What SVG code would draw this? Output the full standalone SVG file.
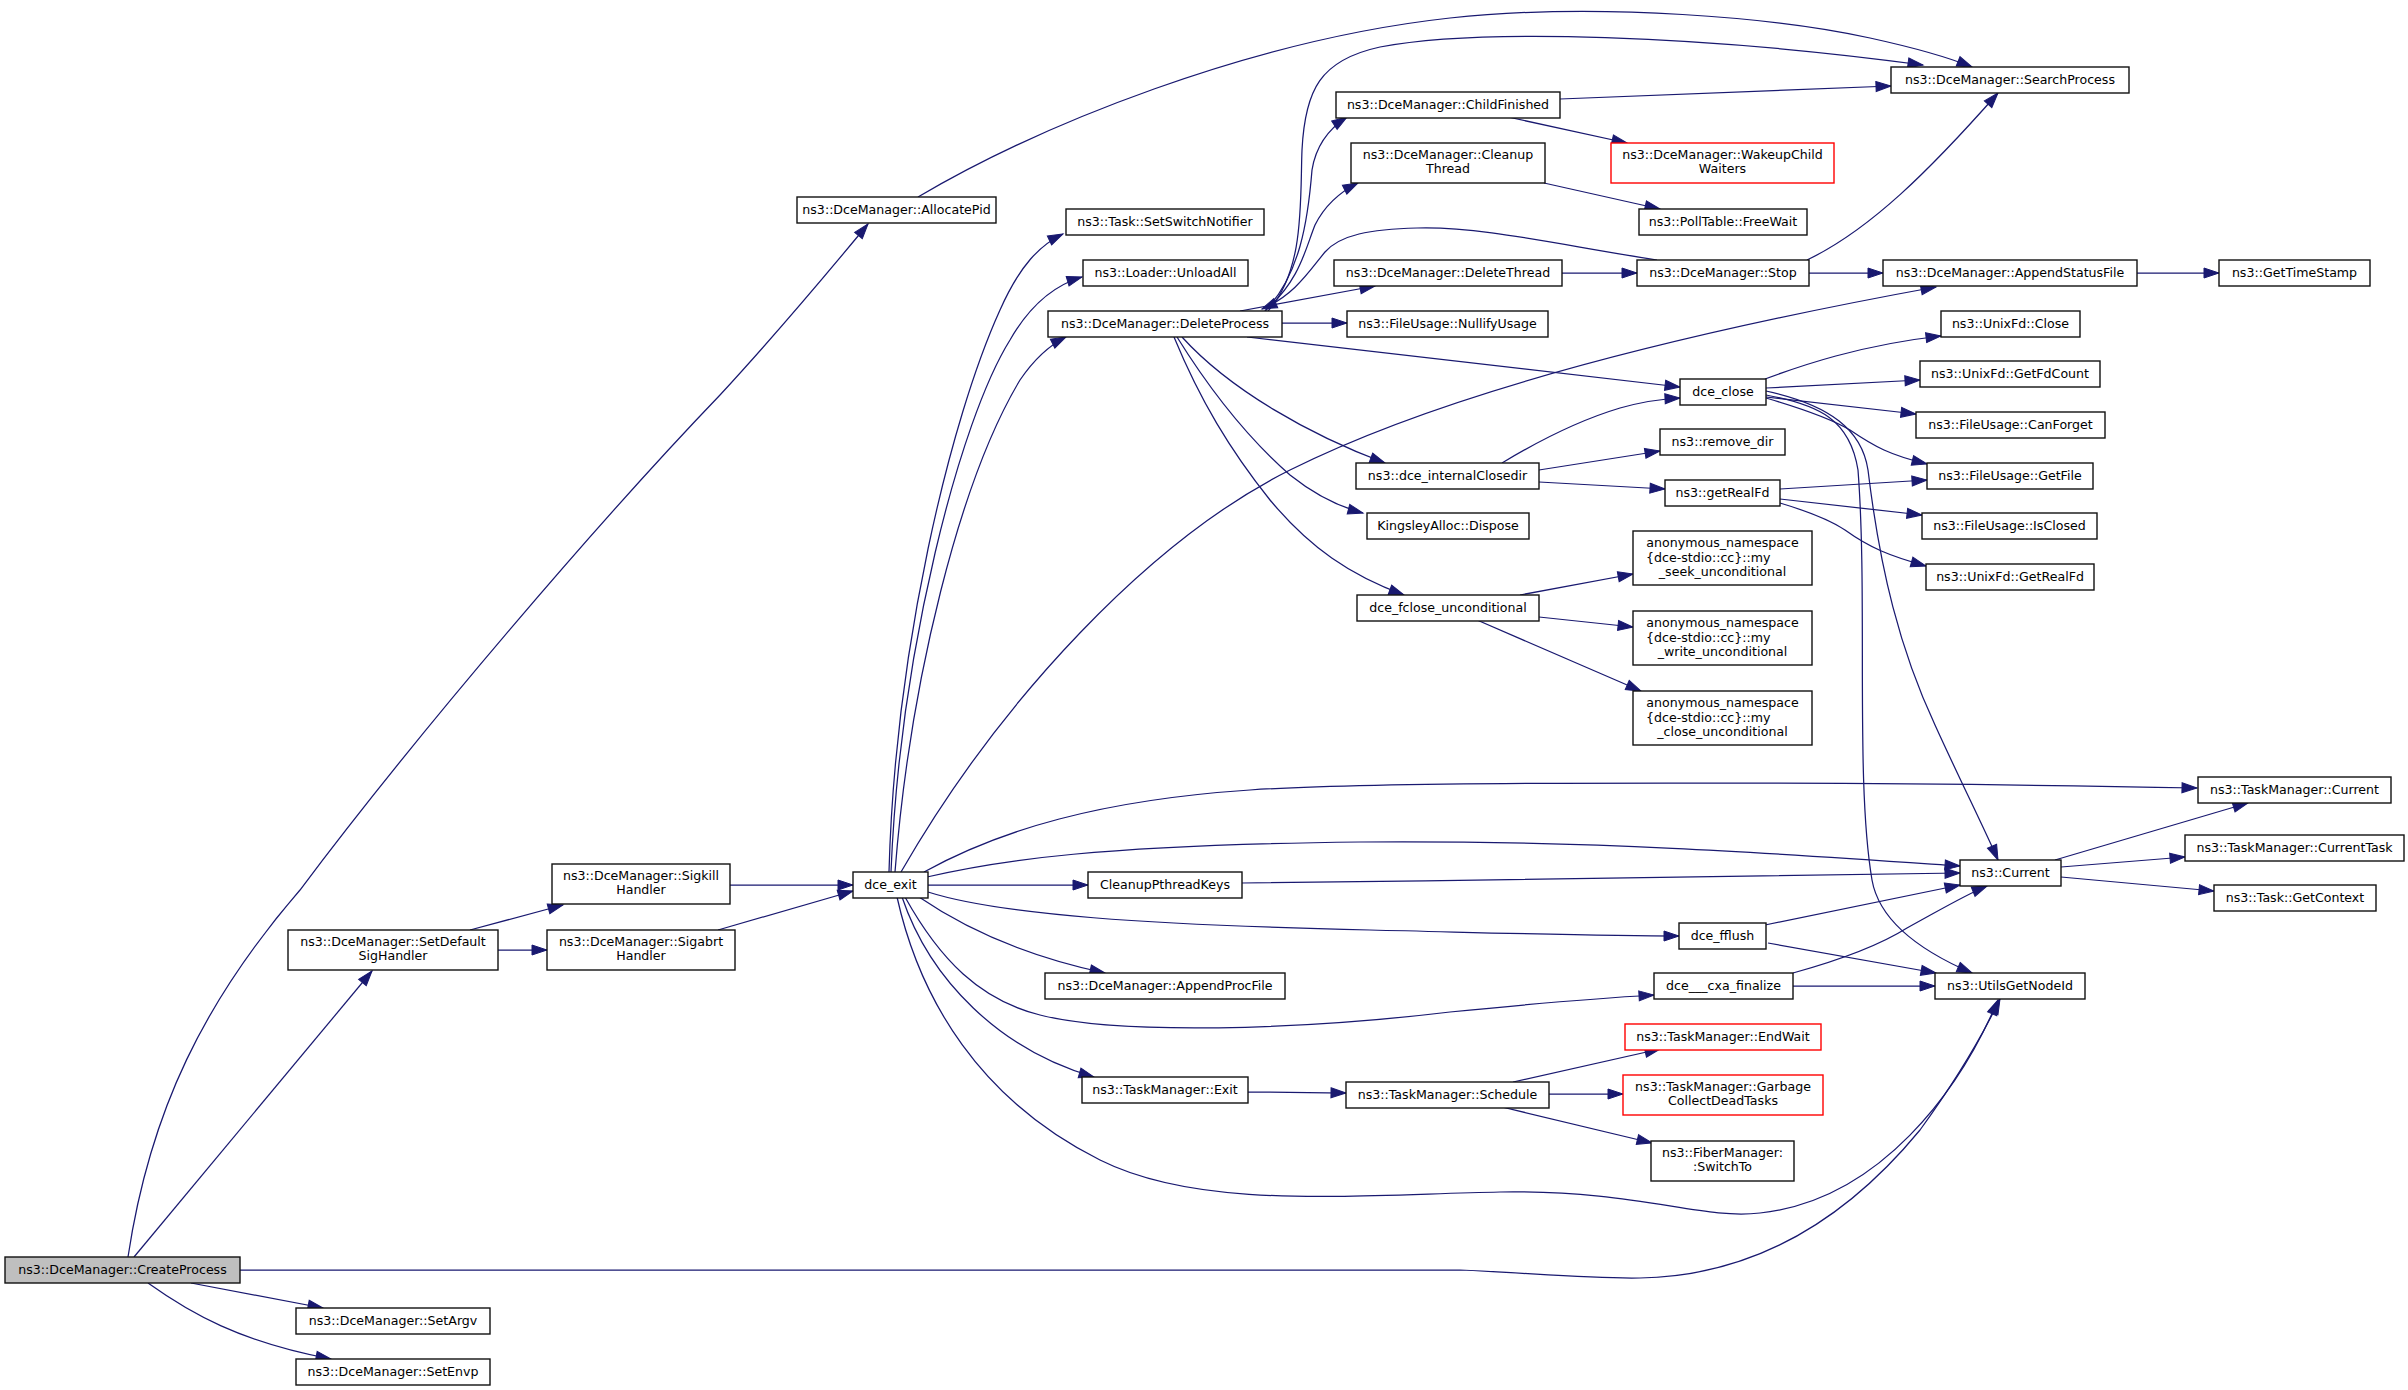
<svg xmlns="http://www.w3.org/2000/svg" width="2408" height="1390" viewBox="0 0 2408 1390">
<style>
.n rect{fill:#fff;stroke:#111;stroke-width:1.4}
.n.root rect{fill:#bfbfbf}
.n.red rect{stroke:#ff0000}
.n text{font-family:'DejaVu Sans','Liberation Sans',sans-serif;font-size:12.6px;fill:#000;text-anchor:middle}
#edges path{fill:none;stroke:#191970;stroke-width:1.25;marker-end:url(#arr)}
</style>
<defs>
<marker id="arr" markerUnits="userSpaceOnUse" markerWidth="16" markerHeight="11" refX="15" refY="5" orient="auto" overflow="visible">
<path d="M0,0 L15,5 L0,10 Z" fill="#191970" stroke="#191970" stroke-width="1"/>
</marker>
</defs>
<rect width="2408" height="1390" fill="#fff"/>
<g id="edges">
<path d="M128,1257 C150,1110 205,1000 300,890 C420,730 600,520 720,395 C780,330 830,270 868,224"/>
<path d="M134,1257 L372,971"/>
<path d="M191,1283 L323,1308"/>
<path d="M148,1283 C190,1313 240,1342 331,1359"/>
<path d="M240,1270 L1460,1270 C1530,1273 1590,1279 1640,1278 C1760,1276 1850,1215 1920,1130 C1960,1075 1985,1030 2000,999"/>
<path d="M918,197 C1040,125 1250,40 1450,18 C1600,2 1780,18 1870,38 C1920,49 1950,58 1972,67"/>
<path d="M730,885 L853,885"/>
<path d="M718,930 L853,891"/>
<path d="M470,930 L563,905"/>
<path d="M498,950 L547,950"/>
<path d="M889,872 C895,650 950,420 1000,310 C1020,265 1040,245 1063,234"/>
<path d="M891,872 C900,650 960,420 1010,340 C1030,305 1055,285 1082,277"/>
<path d="M895,872 C910,680 960,480 1020,380 C1035,358 1050,345 1066,337"/>
<path d="M901,872 C1000,700 1150,540 1290,470 C1450,390 1700,330 1936,287"/>
<path d="M924,872 C1000,830 1100,800 1250,790 C1400,780 1900,782 2197,788"/>
<path d="M927,877 C1000,860 1100,845 1360,842 C1600,840 1800,855 1960,866"/>
<path d="M928,885 L1088,885"/>
<path d="M928,892 C1000,915 1150,925 1370,930 C1500,933 1600,936 1679,936"/>
<path d="M919,897 C960,925 1020,955 1105,973"/>
<path d="M905,897 C940,960 980,1000 1040,1015 C1120,1035 1300,1030 1450,1012 C1550,1002 1620,997 1654,995"/>
<path d="M902,897 C930,980 1000,1050 1094,1077"/>
<path d="M897,897 C920,1000 980,1100 1100,1160 C1200,1210 1350,1195 1500,1192 C1640,1190 1700,1220 1760,1213 C1880,1200 1960,1090 1998,1000"/>
<path d="M1268,311 C1305,270 1300,200 1302,150 C1305,90 1320,60 1380,47 C1480,28 1700,35 1923,65"/>
<path d="M1265,311 C1300,275 1308,220 1312,170 C1316,145 1330,128 1347,117"/>
<path d="M1265,311 C1300,280 1305,250 1315,225 C1325,205 1340,192 1358,183"/>
<path d="M1657,260 C1560,245 1480,226 1417,228 C1370,229 1340,235 1325,252 C1310,270 1295,295 1262,309"/>
<path d="M1240,311 L1375,286"/>
<path d="M1282,323 L1347,323"/>
<path d="M1247,337 L1680,387"/>
<path d="M1182,337 C1230,390 1310,435 1385,463"/>
<path d="M1177,337 C1210,390 1250,440 1290,475 C1315,495 1340,507 1363,513"/>
<path d="M1174,337 C1200,400 1230,450 1270,500 C1310,548 1350,575 1404,595"/>
<path d="M1502,463 C1540,440 1580,420 1620,408 C1645,401 1660,399 1680,398"/>
<path d="M1539,470 L1660,451"/>
<path d="M1539,482 L1665,489"/>
<path d="M1765,379 C1800,366 1860,345 1941,336"/>
<path d="M1766,388 L1920,380"/>
<path d="M1766,397 L1916,414"/>
<path d="M1766,398 C1800,408 1830,418 1850,430 C1875,447 1890,455 1927,464"/>
<path d="M1766,391 C1830,405 1862,430 1868,470 C1880,570 1900,650 1935,725 C1960,780 1985,830 1998,860"/>
<path d="M1766,395 C1820,405 1850,420 1858,470 C1868,600 1855,780 1872,880 C1880,925 1930,955 1972,973"/>
<path d="M1780,489 L1927,480"/>
<path d="M1780,499 L1922,515"/>
<path d="M1780,503 C1810,512 1830,520 1845,530 C1870,548 1890,556 1926,566"/>
<path d="M1520,595 L1633,574"/>
<path d="M1539,617 L1633,627"/>
<path d="M1477,620 L1641,691"/>
<path d="M1560,99 L1891,86"/>
<path d="M1508,117 L1627,143"/>
<path d="M1544,183 L1660,209"/>
<path d="M1562,273 L1637,273"/>
<path d="M1807,260 C1870,230 1930,170 1998,93"/>
<path d="M1809,273 L1883,273"/>
<path d="M2137,273 L2219,273"/>
<path d="M2055,860 L2248,803"/>
<path d="M2061,867 L2185,857"/>
<path d="M2061,877 L2214,891"/>
<path d="M1242,883 C1500,880 1800,876 1960,873"/>
<path d="M1765,925 L1960,885"/>
<path d="M1768,943 L1936,973"/>
<path d="M1793,973 C1840,960 1880,945 1907,928 C1940,910 1965,895 1987,886"/>
<path d="M1793,986 L1935,986"/>
<path d="M1248,1092 L1346,1093"/>
<path d="M1513,1082 L1660,1049"/>
<path d="M1549,1094 L1623,1094"/>
<path d="M1502,1107 L1652,1143"/>
</g>
<g id="n_create" class="n root"><rect x="5" y="1257" width="235" height="26"/><text x="122.5" y="1273.7">ns3::DceManager::CreateProcess</text></g>
<g id="n_allocpid" class="n"><rect x="797" y="197" width="199" height="26"/><text x="896.5" y="213.7">ns3::DceManager::AllocatePid</text></g>
<g id="n_setdefault" class="n"><rect x="288" y="930" width="210" height="40"/><text x="393" y="946.3">ns3::DceManager::SetDefault</text><text x="393" y="960.3">SigHandler</text></g>
<g id="n_sigkill" class="n"><rect x="552" y="864" width="178" height="40"/><text x="641" y="880.3">ns3::DceManager::Sigkill</text><text x="641" y="894.3">Handler</text></g>
<g id="n_sigabrt" class="n"><rect x="547" y="930" width="188" height="40"/><text x="641" y="946.3">ns3::DceManager::Sigabrt</text><text x="641" y="960.3">Handler</text></g>
<g id="n_setargv" class="n"><rect x="296" y="1308" width="194" height="26"/><text x="393" y="1324.7">ns3::DceManager::SetArgv</text></g>
<g id="n_setenvp" class="n"><rect x="296" y="1359" width="194" height="26"/><text x="393" y="1375.7">ns3::DceManager::SetEnvp</text></g>
<g id="n_dceexit" class="n"><rect x="853" y="872" width="75" height="26"/><text x="890.5" y="888.7">dce_exit</text></g>
<g id="n_switchnotifier" class="n"><rect x="1066" y="209" width="198" height="26"/><text x="1165" y="225.7">ns3::Task::SetSwitchNotifier</text></g>
<g id="n_unloadall" class="n"><rect x="1083" y="260" width="165" height="26"/><text x="1165.5" y="276.7">ns3::Loader::UnloadAll</text></g>
<g id="n_deleteprocess" class="n"><rect x="1048" y="311" width="234" height="26"/><text x="1165" y="327.7">ns3::DceManager::DeleteProcess</text></g>
<g id="n_childfinished" class="n"><rect x="1336" y="92" width="224" height="26"/><text x="1448" y="108.7">ns3::DceManager::ChildFinished</text></g>
<g id="n_cleanupthread" class="n"><rect x="1351" y="143" width="194" height="40"/><text x="1448" y="159.3">ns3::DceManager::Cleanup</text><text x="1448" y="173.3">Thread</text></g>
<g id="n_deletethread" class="n"><rect x="1334" y="260" width="228" height="26"/><text x="1448" y="276.7">ns3::DceManager::DeleteThread</text></g>
<g id="n_nullify" class="n"><rect x="1347" y="311" width="201" height="26"/><text x="1447.5" y="327.7">ns3::FileUsage::NullifyUsage</text></g>
<g id="n_internalclosedir" class="n"><rect x="1356" y="463" width="183" height="26"/><text x="1447.5" y="479.7">ns3::dce_internalClosedir</text></g>
<g id="n_kingsley" class="n"><rect x="1367" y="513" width="162" height="26"/><text x="1448" y="529.7">KingsleyAlloc::Dispose</text></g>
<g id="n_fclose" class="n"><rect x="1357" y="595" width="182" height="26"/><text x="1448" y="611.7">dce_fclose_unconditional</text></g>
<g id="n_cleanupkeys" class="n"><rect x="1088" y="872" width="154" height="26"/><text x="1165" y="888.7">CleanupPthreadKeys</text></g>
<g id="n_appendproc" class="n"><rect x="1045" y="973" width="240" height="26"/><text x="1165" y="989.7">ns3::DceManager::AppendProcFile</text></g>
<g id="n_tmexit" class="n"><rect x="1082" y="1077" width="166" height="26"/><text x="1165" y="1093.7">ns3::TaskManager::Exit</text></g>
<g id="n_schedule" class="n"><rect x="1346" y="1082" width="203" height="26"/><text x="1447.5" y="1098.7">ns3::TaskManager::Schedule</text></g>
<g id="n_searchprocess" class="n"><rect x="1891" y="67" width="238" height="26"/><text x="2010" y="83.7">ns3::DceManager::SearchProcess</text></g>
<g id="n_wakeup" class="n red"><rect x="1611" y="143" width="223" height="40"/><text x="1722.5" y="159.3">ns3::DceManager::WakeupChild</text><text x="1722.5" y="173.3">Waiters</text></g>
<g id="n_freewait" class="n"><rect x="1639" y="209" width="168" height="26"/><text x="1723" y="225.7">ns3::PollTable::FreeWait</text></g>
<g id="n_stop" class="n"><rect x="1637" y="260" width="172" height="26"/><text x="1723" y="276.7">ns3::DceManager::Stop</text></g>
<g id="n_appendstatus" class="n"><rect x="1883" y="260" width="254" height="26"/><text x="2010" y="276.7">ns3::DceManager::AppendStatusFile</text></g>
<g id="n_timestamp" class="n"><rect x="2219" y="260" width="151" height="26"/><text x="2294.5" y="276.7">ns3::GetTimeStamp</text></g>
<g id="n_unixclose" class="n"><rect x="1941" y="311" width="139" height="26"/><text x="2010.5" y="327.7">ns3::UnixFd::Close</text></g>
<g id="n_getfdcount" class="n"><rect x="1920" y="361" width="180" height="26"/><text x="2010" y="377.7">ns3::UnixFd::GetFdCount</text></g>
<g id="n_canforget" class="n"><rect x="1916" y="412" width="189" height="26"/><text x="2010.5" y="428.7">ns3::FileUsage::CanForget</text></g>
<g id="n_dceclose" class="n"><rect x="1680" y="379" width="86" height="26"/><text x="1723" y="395.7">dce_close</text></g>
<g id="n_removedir" class="n"><rect x="1660" y="429" width="125" height="26"/><text x="1722.5" y="445.7">ns3::remove_dir</text></g>
<g id="n_getfile" class="n"><rect x="1927" y="463" width="166" height="26"/><text x="2010" y="479.7">ns3::FileUsage::GetFile</text></g>
<g id="n_getrealfd" class="n"><rect x="1665" y="480" width="115" height="26"/><text x="1722.5" y="496.7">ns3::getRealFd</text></g>
<g id="n_isclosed" class="n"><rect x="1922" y="513" width="175" height="26"/><text x="2009.5" y="529.7">ns3::FileUsage::IsClosed</text></g>
<g id="n_unixgetrealfd" class="n"><rect x="1926" y="564" width="168" height="26"/><text x="2010" y="580.7">ns3::UnixFd::GetRealFd</text></g>
<g id="n_seek" class="n"><rect x="1633" y="531" width="179" height="54"/><text x="1722.5" y="547">anonymous_namespace</text><text x="1646" y="561.5" style="text-anchor:start">{dce-stdio::cc}::my</text><text x="1722.5" y="576">_seek_unconditional</text></g>
<g id="n_write" class="n"><rect x="1633" y="611" width="179" height="54"/><text x="1722.5" y="627">anonymous_namespace</text><text x="1646" y="641.5" style="text-anchor:start">{dce-stdio::cc}::my</text><text x="1722.5" y="656">_write_unconditional</text></g>
<g id="n_closeu" class="n"><rect x="1633" y="691" width="179" height="54"/><text x="1722.5" y="707">anonymous_namespace</text><text x="1646" y="721.5" style="text-anchor:start">{dce-stdio::cc}::my</text><text x="1722.5" y="736">_close_unconditional</text></g>
<g id="n_tmcurrent" class="n"><rect x="2198" y="777" width="193" height="26"/><text x="2294.5" y="793.7">ns3::TaskManager::Current</text></g>
<g id="n_currenttask" class="n"><rect x="2185" y="835" width="219" height="26"/><text x="2294.5" y="851.7">ns3::TaskManager::CurrentTask</text></g>
<g id="n_current" class="n"><rect x="1960" y="860" width="101" height="26"/><text x="2010.5" y="876.7">ns3::Current</text></g>
<g id="n_getcontext" class="n"><rect x="2214" y="885" width="162" height="26"/><text x="2295" y="901.7">ns3::Task::GetContext</text></g>
<g id="n_fflush" class="n"><rect x="1679" y="923" width="87" height="26"/><text x="1722.5" y="939.7">dce_fflush</text></g>
<g id="n_cxa" class="n"><rect x="1654" y="973" width="139" height="26"/><text x="1723.5" y="989.7">dce___cxa_finalize</text></g>
<g id="n_utilsgetnodeid" class="n"><rect x="1935" y="973" width="150" height="26"/><text x="2010" y="989.7">ns3::UtilsGetNodeId</text></g>
<g id="n_endwait" class="n red"><rect x="1625" y="1024" width="196" height="26"/><text x="1723" y="1040.7">ns3::TaskManager::EndWait</text></g>
<g id="n_garbage" class="n red"><rect x="1623" y="1075" width="200" height="40"/><text x="1723" y="1091.3">ns3::TaskManager::Garbage</text><text x="1723" y="1105.3">CollectDeadTasks</text></g>
<g id="n_switchto" class="n"><rect x="1651" y="1141" width="143" height="40"/><text x="1722.5" y="1157.3">ns3::FiberManager:</text><text x="1722.5" y="1171.3">:SwitchTo</text></g>
</svg>
